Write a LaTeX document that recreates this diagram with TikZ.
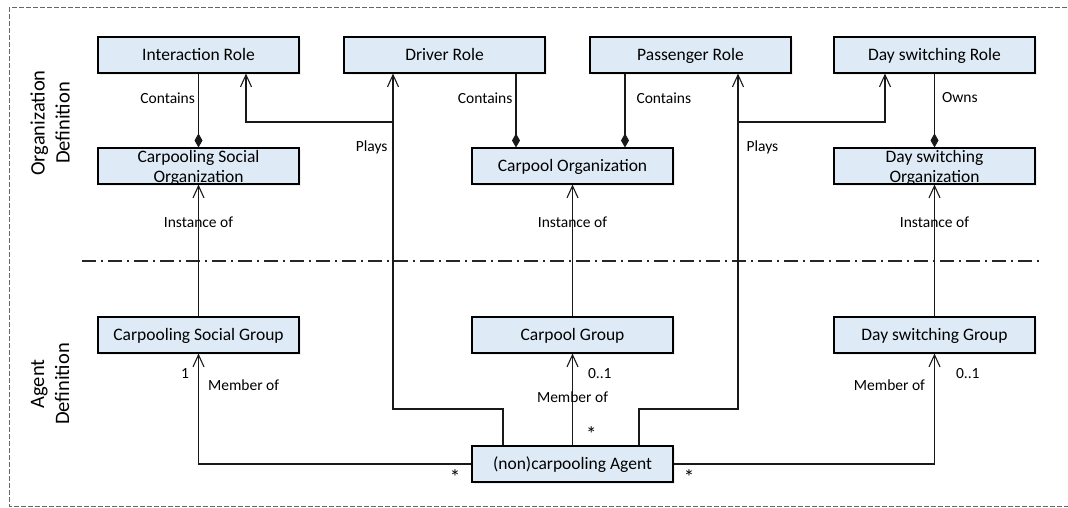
\documentclass[tikz,border=0pt]{standalone}
\usepackage{fontspec}
\setmainfont{Carlito}
\usetikzlibrary{arrows.meta}
\usetikzlibrary{shadows}
\definecolor{boxblue}{RGB}{222,235,247}

\begin{document}
\begin{tikzpicture}[x = 1pt, y = -1pt, font = \fontsize{15.5}{18}\selectfont]
	\tikzstyle{boxStyle} = [draw = black, line width = 1.1pt, fill = boxblue, minimum width = 201pt, minimum height = 36pt, inner sep = 0pt, text height = 13.5pt, text depth = 2pt, font = \fontsize{17.5}{20}\selectfont, drop shadow = {shadow xshift = 1.5pt, shadow yshift = -1.5pt, fill = black!12}]
	\tikzstyle{textStyle} = [align = center, inner sep = 0pt, font = \fontsize{17.5}{20}\selectfont]
	\tikzstyle{sideStyle} = [align = center, rotate = 90, inner sep = 0pt, font = \fontsize{20.5}{25}\selectfont]
	\tikzstyle{linkStyle} = [draw = black!90, line width = 1.1pt]
	\tikzstyle{ownsStyle} = [linkStyle, -{Diamond[length = 14pt, width = 8pt]}]
	\tikzstyle{navStyle} = [linkStyle, -{Straight Barb[length = 12pt, width = 11pt]}]
	\tikzstyle{tagStyle} = [inner sep = 3pt, text = black]
	\tikzstyle{starStyle} = [inner sep = 1pt, font = \fontsize{21}{21}\selectfont]
	\useasboundingbox (0,0) rectangle (1068,507);
	\draw[black!60, line width = 1pt, dash pattern = on 5pt off 2pt] (9,7) rectangle (1075,506);
	\draw[black!85, line width = 1.1pt, dash pattern = on 14pt off 5pt on 2pt off 5pt] (82,261) -- (1043,261);
	\node[sideStyle] (orgDef) at (50,123) {Organization\\Definition};
	\node[sideStyle] (agentDef) at (50,384) {Agent\\Definition};
	\node[boxStyle] (ir) at (198.5,55) {Interaction Role};
	\node[boxStyle] (dr) at (444.5,55) {Driver Role};
	\node[boxStyle] (pr) at (690.5,55) {Passenger Role};
	\node[boxStyle] (dsr) at (934.5,55) {Day switching Role};
	\node[boxStyle] (cso) at (198.5,166) {};
	\node[textStyle] (csoText) at (198.5,168) {Carpooling Social\\Organization};
	\node[boxStyle] (co) at (572.5,166) {Carpool Organization};
	\node[boxStyle] (dso) at (934.5,166) {};
	\node[textStyle] (dsoText) at (934.5,168) {Day switching\\Organization};
	\node[boxStyle] (csg) at (198.5,335) {Carpooling Social Group};
	\node[boxStyle] (cg) at (572.5,335) {Carpool Group};
	\node[boxStyle] (dsg) at (934.5,335) {Day switching Group};
	\node[boxStyle] (agent) at (572.5,464) {(non)carpooling Agent};
	\coordinate (drCont) at (516,0);
	\coordinate (prCont) at (625,0);
	\coordinate (playsL) at (393,409);
	\coordinate (playsLUp) at (393,122);
	\coordinate (playsR) at (738,409);
	\coordinate (playsRUp) at (738,122);
	\draw[ownsStyle] (ir) -- node[tagStyle, left, pos = 0.33] {Contains} (cso);
	\draw[ownsStyle] (dr.south -| drCont) -- node[tagStyle, left, pos = 0.33] {Contains} (co.north -| drCont);
	\draw[ownsStyle] (pr.south -| prCont) -- node[tagStyle, right, xshift = 8pt, pos = 0.33] {Contains} (co.north -| prCont);
	\draw[ownsStyle] (dsr) -- node[tagStyle, right, xshift = 4pt, pos = 0.33] {Owns} (dso);
	\draw[navStyle] ([xshift = -69.5pt]agent.north) |- (playsL) -- node[tagStyle, left, xshift = -2pt, pos = 0.78] {Plays} (dr.south -| playsL);
	\draw[navStyle] (playsLUp) -| ([xshift = 47.5pt]ir.south);
	\draw[navStyle] ([xshift = 66.5pt]agent.north) |- (playsR) -- node[tagStyle, right, xshift = 5pt, pos = 0.78] {Plays} (pr.south -| playsR);
	\draw[navStyle] (playsRUp) -| ([xshift = -49.5pt]dsr.south);
	\draw[navStyle] (csg) -- node[tagStyle, pos = 0.714] {Instance of} (cso);
	\draw[navStyle] (cg) -- node[tagStyle, pos = 0.714] {Instance of} (co);
	\draw[navStyle] (dsg) -- node[tagStyle, pos = 0.714] {Instance of} (dso);
	\draw[navStyle] (agent.west) -| node[starStyle, below, yshift = -4pt, pos = 0.03] {*} node[tagStyle, left, xshift = -6pt, pos = 0.91] {1} node[tagStyle, right, xshift = 6pt, pos = 0.856] {Member of} (csg.south);
	\draw[navStyle] (agent) -- node[starStyle, right, xshift = 12pt, pos = 0.12] {*} node[tagStyle, pos = 0.53] {Member of} node[tagStyle, right, xshift = 12pt, pos = 0.785] {0..1} (cg);
	\draw[navStyle] (agent.east) -| node[starStyle, below, yshift = -4pt, pos = 0.03] {*} node[tagStyle, left, xshift = -6pt, pos = 0.856] {Member of} node[tagStyle, right, xshift = 18pt, pos = 0.91] {0..1} (dsg.south);
\end{tikzpicture}
\end{document}
